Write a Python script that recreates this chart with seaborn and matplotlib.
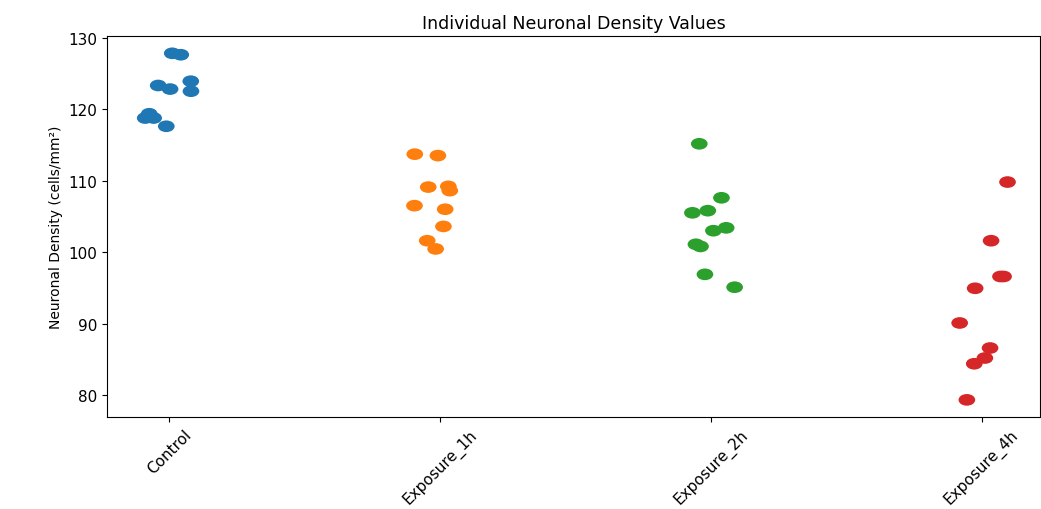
import numpy as np
import pandas as pd
import matplotlib
matplotlib.use("Agg")
import matplotlib.pyplot as plt
from matplotlib.path import Path
from matplotlib.transforms import Affine2D
import seaborn as sns

# ---- data ----
groups = ["Control", "Exposure_1h", "Exposure_2h", "Exposure_4h"]
control = [127.8, 127.6, 123.3, 122.8, 123.9, 122.5, 119.35, 118.75, 118.75, 117.6]
exposure_1h = [113.7, 113.5, 109.2, 109.1, 108.6, 106.0, 106.5, 103.6, 101.6, 100.45]
exposure_2h = [115.15, 107.6, 105.8, 105.5, 103.0, 103.4, 100.8, 101.1, 96.9, 95.1]
exposure_4h = [109.8, 101.6, 96.6, 96.6, 94.95, 90.1, 86.6, 85.2, 84.4, 79.35]

series = [control, exposure_1h, exposure_2h, exposure_4h]
df = pd.DataFrame({
    "Group": np.repeat(groups, [len(s) for s in series]),
    "Density": np.concatenate(series),
})

# slightly wide ellipse marker, like the reference
ellipse = Path.unit_circle().transformed(Affine2D().scale(1.0, 0.7))

np.random.seed(3)
fig, ax = plt.subplots(figsize=(10.41, 5.10), dpi=100)
fig.subplots_adjust(left=0.103, right=0.999, top=0.9275, bottom=0.18)

sns.stripplot(data=df, x="Group", y="Density", hue="Group", palette="tab10",
              legend=False, jitter=True, size=12, marker=ellipse, ax=ax)

ax.set_xlim(-0.23, 3.215)
ax.set_title("Individual Neuronal Density Values", fontsize=12.5)
ax.set_xlabel("")
ax.set_ylabel("Neuronal Density (cells/mm²)", fontsize=10)
ax.tick_params(axis="both", labelsize=11)
plt.setp(ax.get_xticklabels(), rotation=45, ha="center")

fig.savefig("out.png", dpi=100)
